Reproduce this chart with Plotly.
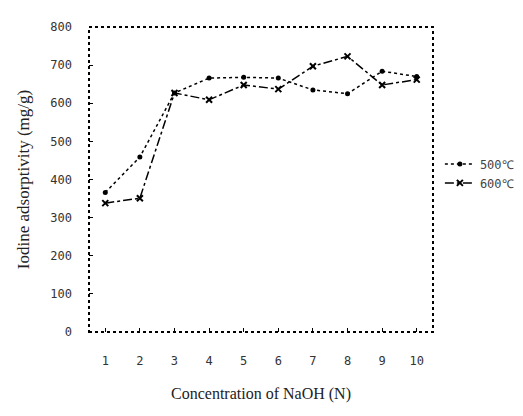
import plotly.graph_objects as go

concentration = [1, 2, 3, 4, 5, 6, 7, 8, 9, 10]
series_500 = [366, 459, 627, 666, 668, 666, 635, 625, 684, 670]
series_600 = [338, 351, 627, 609, 648, 637, 697, 723, 648, 662]
name_500 = "500℃"
name_600 = "600℃"
x_title = "Concentration of NaOH (N)"
y_title = "Iodine adsorptivity (mg/g)"

fig = go.Figure()
fig.add_trace(go.Scatter(
    x=concentration, y=series_500, name=name_500, mode="lines+markers",
    line=dict(color="black", width=1.5, dash="dot"),
    marker=dict(symbol="circle", size=5, color="black"),
))
fig.add_trace(go.Scatter(
    x=concentration, y=series_600, name=name_600, mode="lines+markers",
    line=dict(color="black", width=1.5, dash="dashdot"),
    marker=dict(symbol="x-thin", size=6, color="black", line=dict(width=2, color="black")),
))

tick_font = dict(family="DejaVu Sans Mono", size=12, color="#333")
x_title_font = dict(family="Liberation Serif", size=16, color="#222")
y_title_font = dict(family="Liberation Serif", size=17, color="#222")

fig.update_layout(
    width=523, height=416,
    margin=dict(l=81, r=78, t=14, b=92),
    paper_bgcolor="white", plot_bgcolor="white",
    showlegend=True,
    legend=dict(x=1.02, xanchor="left", y=0.52, yanchor="middle",
                font=dict(family="DejaVu Sans Mono", size=12, color="#444"),
                bgcolor="rgba(0,0,0,0)", itemwidth=30, tracegroupgap=4),
    xaxis=dict(range=[0.53, 10.47], tickvals=concentration, showgrid=False,
               zeroline=False, showline=False, ticks="inside", ticklen=4,
               tickcolor="black", tickfont=tick_font, ticklabelstandoff=20,
               title=dict(text=x_title, font=x_title_font, standoff=20)),
    yaxis=dict(range=[0, 800], dtick=100, showgrid=False, zeroline=False,
               showline=False, ticks="inside", ticklen=4, tickcolor="black",
               tickfont=tick_font, ticklabelstandoff=16,
               title=dict(text=y_title, font=y_title_font, standoff=16)),
    shapes=[dict(type="rect", xref="paper", yref="paper", x0=0, y0=0, x1=1, y1=1,
                 line=dict(color="black", width=2, dash="dot"))],
)

fig.write_html("out.html")
